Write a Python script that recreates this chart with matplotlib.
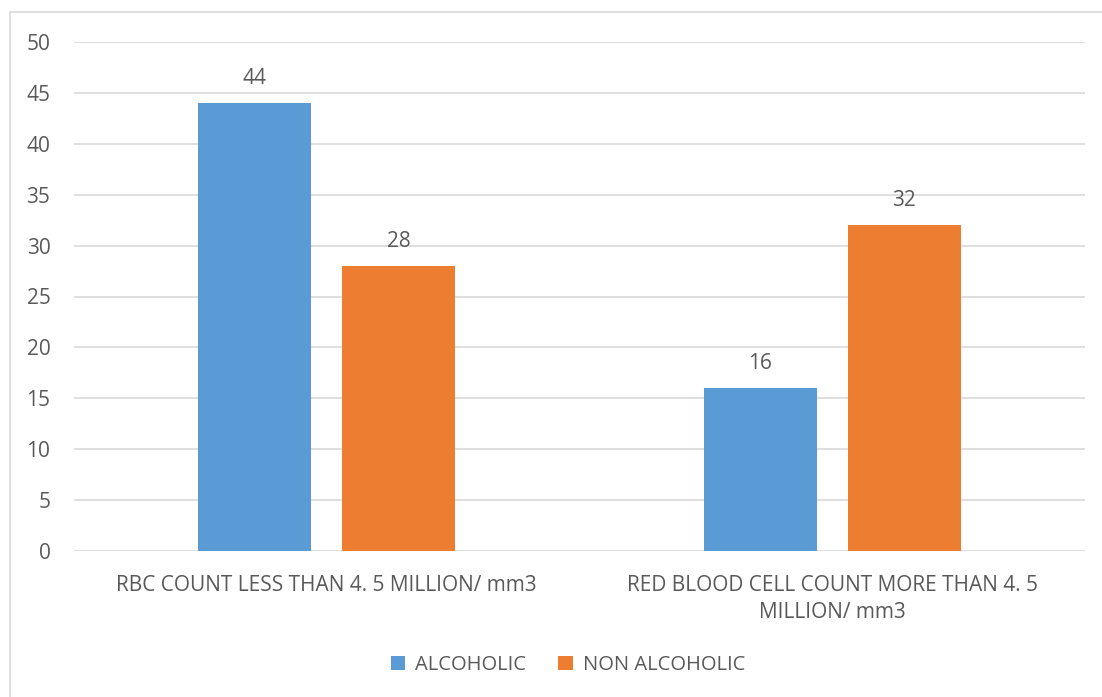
import matplotlib.pyplot as plt
import numpy as np
from matplotlib.patches import Rectangle

categories = ["RBC COUNT LESS THAN 4. 5 MILLION/ mm3",
              "RED BLOOD CELL COUNT MORE THAN 4. 5\nMILLION/ mm3"]
series_names = ["ALCOHOLIC", "NON ALCOHOLIC"]
alcoholic = [44, 16]
non_alcoholic = [28, 32]
y_ticks = [0, 5, 10, 15, 20, 25, 30, 35, 40, 45, 50]

BLUE = "#5B9BD5"
ORANGE = "#ED7D31"
TEXT = "#595959"
GRID = "#D9D9D9"

plt.rcParams["font.family"] = ["Open Sans", "DejaVu Sans"]

W, H = 1102, 697
fig = plt.figure(figsize=(W / 100, H / 100), dpi=100)
ax = fig.add_axes([74 / W, 1 - 551 / H, (1085 - 74) / W, (551 - 42) / H])

# outer chart frame, runs off the right and bottom edges
fig.patches.append(Rectangle((10 / W, -0.1), 1.2, 1 - 12 / H + 0.1,
                             transform=fig.transFigure, fill=False,
                             edgecolor=GRID, linewidth=1.2))

x = np.arange(len(categories))
width = 0.2235
offset = 0.1427
b1 = ax.bar(x - offset, alcoholic, width, color=BLUE, label=series_names[0], zorder=3)
b2 = ax.bar(x + offset, non_alcoholic, width, color=ORANGE, label=series_names[1], zorder=3)

for bars, vals in ((b1, alcoholic), (b2, non_alcoholic)):
    for bar, v in zip(bars, vals):
        ax.annotate(str(v), (bar.get_x() + bar.get_width() / 2, v),
                    xytext=(0, 10), textcoords="offset points",
                    ha="center", va="bottom", fontsize=15, color=TEXT)

ax.set_xlim(-0.5, 1.5)
ax.set_ylim(0, 50)
ax.set_yticks(y_ticks)
ax.set_xticks(x)
ax.set_xticklabels(categories, fontsize=15, color=TEXT, linespacing=1.4)
ax.tick_params(axis="y", labelsize=15, labelcolor=TEXT, length=0, pad=17)
ax.tick_params(axis="x", length=0, pad=17)
ax.grid(axis="y", color=GRID, linewidth=1.2, zorder=0)
for s in ax.spines.values():
    s.set_visible(False)

fig.legend(loc="center", bbox_to_anchor=(568 / W, 1 - 665 / H), ncol=2,
           frameon=False, fontsize=14.5, labelcolor=TEXT,
           handlelength=0.7, handleheight=0.7, handletextpad=0.5,
           columnspacing=1.6)

fig.savefig("out.png", dpi=100)
